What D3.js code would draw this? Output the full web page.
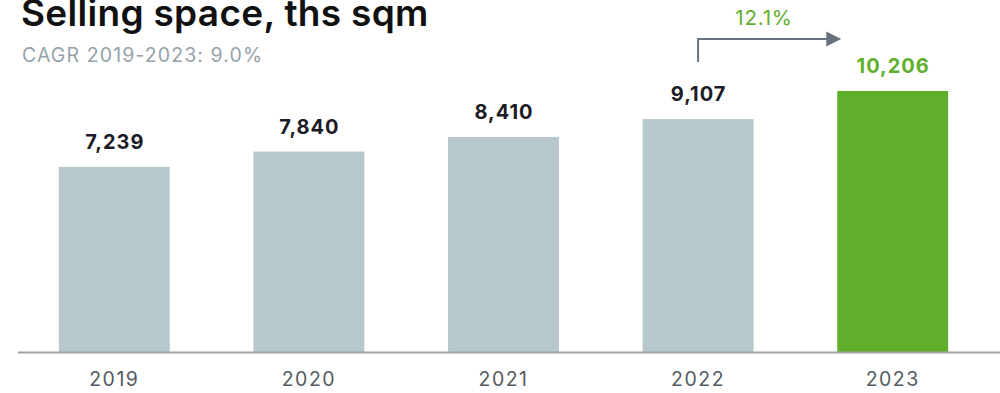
<!DOCTYPE html>
<html>
<head>
<meta charset="utf-8">
<script src="https://cdn.jsdelivr.net/npm/d3@7"></script>
<style>
  body { margin: 0; background: #fff; }
  svg { font-family: Inter, "Noto Sans", sans-serif; display: block; }
</style>
</head>
<body>
<svg width="1000" height="393"></svg>
<script>
// chart data
const years = ["2019", "2020", "2021", "2022", "2023"];
const space = [7239, 7840, 8410, 9107, 10206];
const growthLabel = "12.1%";
const title = "Selling space, ths sqm";
const subtitle = "CAGR 2019-2023: 9.0%";

const svg = d3.select("svg");
const baseY = 352;

const x = d3.scaleBand()
  .domain(years)
  .range([17, 990])
  .paddingInner(0.43)
  .paddingOuter(0.215);

const y = d3.scaleLinear()
  .domain([0, 10206])
  .range([baseY, 91]);

// title + subtitle
svg.append("text")
  .attr("x", 21).attr("y", 26)
  .style("font-size", "37px")
  .style("font-weight", 600)
  .style("letter-spacing", "0.3px")
  .attr("fill", "#111")
  .text(title);

svg.append("text")
  .attr("x", 22).attr("y", 62)
  .style("font-size", "19.5px")
  .style("letter-spacing", "1.1px")
  .attr("fill", "#93a3a9")
  .text(subtitle);

// bars
const data = years.map((yr, i) => ({ year: yr, value: space[i], last: i === years.length - 1 }));

svg.append("g")
  .selectAll("rect")
  .data(data)
  .enter()
  .append("rect")
    .attr("x", d => x(d.year))
    .attr("y", d => y(d.value))
    .attr("width", x.bandwidth())
    .attr("height", d => baseY - y(d.value))
    .attr("fill", d => d.last ? "#5faf2d" : "#b6c8cc");

// value labels
svg.append("g")
  .selectAll("text")
  .data(data)
  .enter()
  .append("text")
    .attr("x", d => x(d.year) + x.bandwidth() / 2 + 0.5)
    .attr("y", d => y(d.value) - 18)
    .attr("text-anchor", "middle")
    .style("font-size", "20px")
    .style("font-weight", 700)
    .style("letter-spacing", "1px")
    .attr("fill", d => d.last ? "#5faf2d" : "#1c1c26")
    .text(d => d3.format(",")(d.value));

// x axis
const xAxis = svg.append("g")
  .attr("transform", `translate(0,${baseY})`)
  .call(d3.axisBottom(x).tickSize(0).tickPadding(20));
xAxis.select(".domain").remove();
xAxis.selectAll("text")
  .style("font-size", "19.5px")
  .style("letter-spacing", "1.5px")
  .style("font-family", "Inter, 'Noto Sans', sans-serif")
  .attr("fill", "#555b60");

svg.append("line")
  .attr("x1", 18).attr("x2", 1000)
  .attr("y1", baseY + 0.5).attr("y2", baseY + 0.5)
  .attr("stroke", "#a0a0a0")
  .attr("stroke-width", 2);

// growth arrow 2022 -> 2023
const x0 = x("2022") + x.bandwidth() / 2;
const tip = x("2023") + 4;
const arrowY = 39;
svg.append("path")
  .attr("d", `M${x0},${y(9107) - 57}V${arrowY}H${tip - 14}`)
  .attr("fill", "none")
  .attr("stroke", "#66737e")
  .attr("stroke-width", 2);
svg.append("path")
  .attr("d", `M${tip - 15},${arrowY - 7.5}L${tip},${arrowY}L${tip - 15},${arrowY + 7.5}Z`)
  .attr("fill", "#66737e");

svg.append("text")
  .attr("x", 764)
  .attr("y", 25)
  .attr("text-anchor", "middle")
  .style("font-size", "20.5px")
  .style("letter-spacing", "0.8px")
  .attr("fill", "#5faf2d")
  .text(growthLabel);
</script>
</body>
</html>
